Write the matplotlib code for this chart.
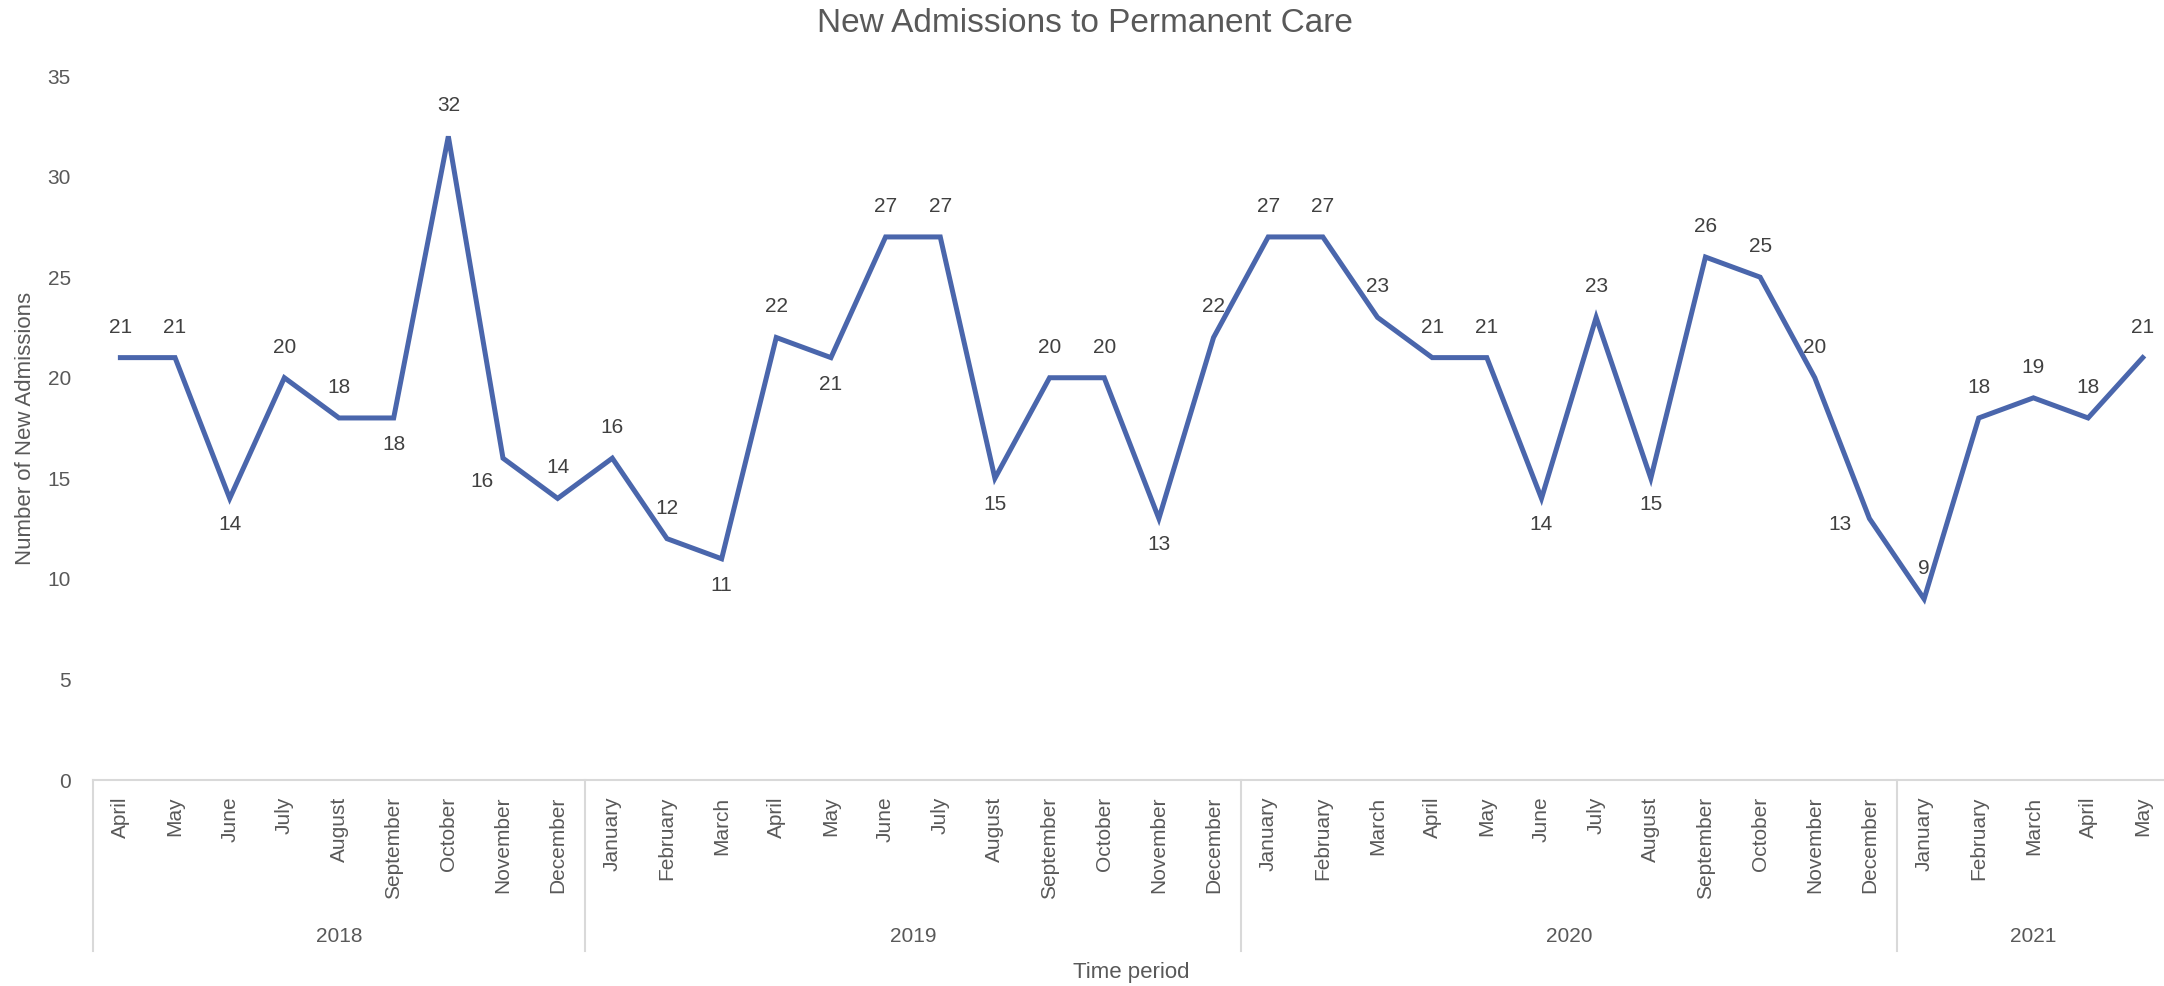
import numpy as np
import matplotlib
matplotlib.use('Agg')
import matplotlib.pyplot as plt
import matplotlib.transforms as mtransforms

plt.rcParams['font.family'] = ['Liberation Sans', 'DejaVu Sans']

# Data
months = ['April', 'May', 'June', 'July', 'August', 'September', 'October', 'November', 'December',
          'January', 'February', 'March', 'April', 'May', 'June', 'July', 'August', 'September',
          'October', 'November', 'December',
          'January', 'February', 'March', 'April', 'May', 'June', 'July', 'August', 'September',
          'October', 'November', 'December',
          'January', 'February', 'March', 'April', 'May']
admissions = [21, 21, 14, 20, 18, 18, 32, 16, 14,
              16, 12, 11, 22, 21, 27, 27, 15, 20, 20, 13, 22,
              27, 27, 23, 21, 21, 14, 23, 15, 26, 25, 20, 13,
              9, 18, 19, 18, 21]
years = ['2018', '2019', '2020', '2021']
months_per_year = [9, 12, 12, 5]

# where each data label sits relative to its point
label_side = ['a', 'a', 'b', 'a', 'a', 'b', 'a', 'bl', 'a',
              'a', 'a', 'b', 'a', 'b', 'a', 'a', 'b', 'a', 'a', 'b', 'a',
              'a', 'a', 'a', 'a', 'a', 'b', 'a', 'b', 'a', 'a', 'a', 'l',
              'a', 'a', 'a', 'a', 'a']
offsets = {'a': (0, 22), 'b': (0, -19), 'l': (-21, -4), 'bl': (-15, -17)}

line_color = '#4A66AC'
text_color = '#595959'
label_color = '#404040'
grid_color = '#D9D9D9'

fig = plt.figure(figsize=(21.64, 9.86), dpi=100)
ax = fig.add_axes([0.0430, 0.2089, 0.9598, 0.714])

x = np.arange(len(admissions))
ax.plot(x, admissions, color=line_color, linewidth=3.6, solid_joinstyle='miter')

for xi, yi, side in zip(x, admissions, label_side):
    ax.annotate(str(yi), (xi, yi), xytext=offsets[side], textcoords='offset points',
                ha='center', va='center', fontsize=15, color=label_color)

ax.set_xlim(-0.5, len(admissions) - 0.5)
ax.set_ylim(0, 35)
ax.set_yticks(range(0, 36, 5))
ax.set_xticks(x)
ax.set_xticklabels(months, rotation=90, fontsize=15, color=text_color)
ax.tick_params(axis='x', length=0, pad=12)
ax.tick_params(axis='y', length=0, pad=16, labelsize=15, labelcolor=text_color)

for s in ['top', 'right', 'left']:
    ax.spines[s].set_visible(False)
ax.spines['bottom'].set_color(grid_color)
ax.spines['bottom'].set_linewidth(1.5)

# multi-level category axis: year separators and year labels
trans = mtransforms.blended_transform_factory(ax.transData, ax.transAxes)
bounds = np.concatenate([[0], np.cumsum(months_per_year)]) - 0.5
for b in bounds:
    ax.plot([b, b], [0, -0.243], transform=trans, color=grid_color, linewidth=1.5, clip_on=False)
for yr, lo, hi in zip(years, bounds[:-1], bounds[1:]):
    ax.text((lo + hi) / 2, -0.2216, yr, transform=trans, ha='center', va='center',
            fontsize=15, color=text_color)

ax.text(0.5, -0.274, 'Time period', transform=ax.transAxes, ha='center', va='center',
        fontsize=16, color=text_color)
ax.text(-0.0327, 0.5, 'Number of New Admissions', transform=ax.transAxes, rotation=90,
        ha='center', va='center', fontsize=16, color=text_color)

fig.text(1085 / 2164, 1 - 23 / 986, 'New Admissions to Permanent Care', ha='center', va='center',
         fontsize=24, color=text_color)

fig.savefig('out.png', dpi=100)
